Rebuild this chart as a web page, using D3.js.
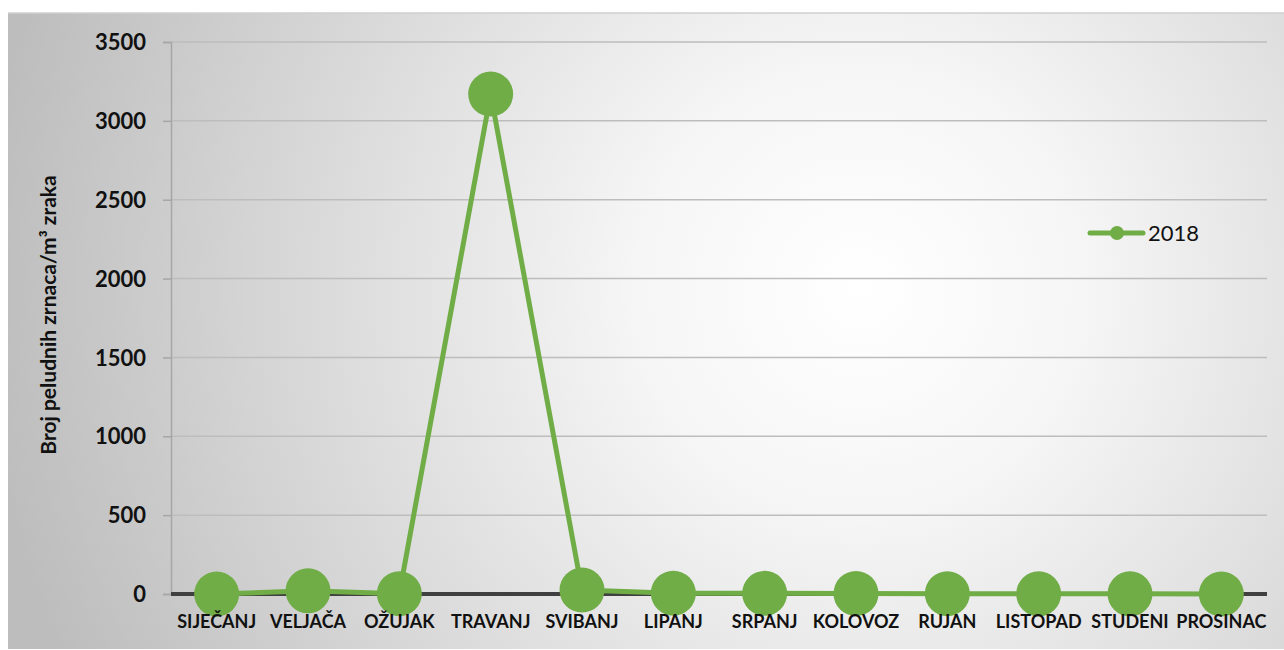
<!DOCTYPE html>
<html><head><meta charset="utf-8">
<script src="https://cdn.jsdelivr.net/npm/d3@7/dist/d3.min.js"></script>
<style>body{margin:0;background:#fff}svg{display:block}</style>
</head><body>
<svg id="c" width="1284" height="650"></svg>
<script>
const categories = ["SIJEČANJ","VELJAČA","OŽUJAK","TRAVANJ","SVIBANJ","LIPANJ","SRPANJ","KOLOVOZ","RUJAN","LISTOPAD","STUDENI","PROSINAC"];
const values2018 = [0, 20, 2, 3170, 25, 5, 4, 3, 2, 1, 1, 0];
const yTicks = [0, 500, 1000, 1500, 2000, 2500, 3000, 3500];
const seriesName = "2018";
const yTitle = "Broj peludnih zrnaca/m³ zraka";

(function(){
const svg = d3.select("#c");
const green = "#70ad47";
const defs = svg.append("defs");
const g = defs.append("radialGradient").attr("id","bg").attr("gradientUnits","userSpaceOnUse")
  .attr("cx",860).attr("cy",290).attr("r",880);
g.append("stop").attr("offset","0").attr("stop-color","#ffffff");
g.append("stop").attr("offset","0.25").attr("stop-color","#f6f6f6");
g.append("stop").attr("offset","1").attr("stop-color","#bdbdbd");

svg.append("rect").attr("x",8).attr("y",13).attr("width",1276).attr("height",636).attr("fill","url(#bg)");
svg.append("line").attr("x1",8).attr("x2",1284).attr("y1",13).attr("y2",13).attr("stroke","#cfcfcf").attr("stroke-width",1.5);

const pL = 171, pR = 1267, pT = 42, pB = 594;
const x = d3.scaleBand().domain(categories).range([pL, pR]);
const y = d3.scaleLinear().domain([0, 3500]).range([pB, pT]);

svg.append("g").selectAll("line").data(yTicks.filter(d=>d>0)).join("line")
  .attr("x1",pL).attr("x2",pR).attr("y1",d=>y(d)).attr("y2",d=>y(d))
  .attr("stroke","#bdbdbd").attr("stroke-width",1.5);

const yAxis = svg.append("g").attr("transform",`translate(${pL},0)`)
  .call(d3.axisLeft(y).tickValues(yTicks).tickSize(8).tickPadding(17).tickFormat(d3.format("d")));
yAxis.select(".domain").attr("stroke","#a6a6a6").attr("stroke-width",1.5);
yAxis.selectAll(".tick line").attr("stroke","#a6a6a6").attr("stroke-width",1.5);
yAxis.selectAll("text").attr("font-family","Lato, sans-serif").attr("font-weight","bold")
  .attr("font-size",22).attr("fill","#111").attr("dy","0.35em");

svg.append("line").attr("x1",pL).attr("x2",pR).attr("y1",y(0)).attr("y2",y(0))
  .attr("stroke","#404040").attr("stroke-width",4);

const line = d3.line().x((d,i)=>x(categories[i])+x.bandwidth()/2).y(d=>y(d));
svg.append("path").datum(values2018).attr("d",line).attr("fill","none")
  .attr("stroke",green).attr("stroke-width",5).attr("stroke-linejoin","round");
svg.append("g").selectAll("circle").data(values2018).join("circle")
  .attr("cx",(d,i)=>x(categories[i])+x.bandwidth()/2).attr("cy",d=>y(d)).attr("r",22.5).attr("fill",green);

const xAxis = svg.append("g").attr("transform",`translate(0,${pB})`)
  .call(d3.axisBottom(x).tickSize(0).tickPadding(21));
xAxis.select(".domain").remove();
xAxis.selectAll("text").attr("font-family","Lato, sans-serif").attr("font-weight","bold")
  .attr("font-size",18).attr("fill","#111");

svg.append("text").attr("transform","translate(56,315) rotate(-90)").attr("text-anchor","middle")
  .attr("font-family","Lato, sans-serif").attr("font-weight","bold").attr("font-size",21).attr("fill","#111")
  .text(yTitle);

const lg = svg.append("g");
lg.append("line").attr("x1",1090).attr("x2",1143).attr("y1",233).attr("y2",233)
  .attr("stroke",green).attr("stroke-width",5).attr("stroke-linecap","round");
lg.append("circle").attr("cx",1117).attr("cy",233).attr("r",7).attr("fill",green);
lg.append("text").attr("x",1148).attr("y",241).attr("font-family","Lato, sans-serif")
  .attr("font-size",22).attr("fill","#111").text(seriesName);
})();
</script>
</body></html>
